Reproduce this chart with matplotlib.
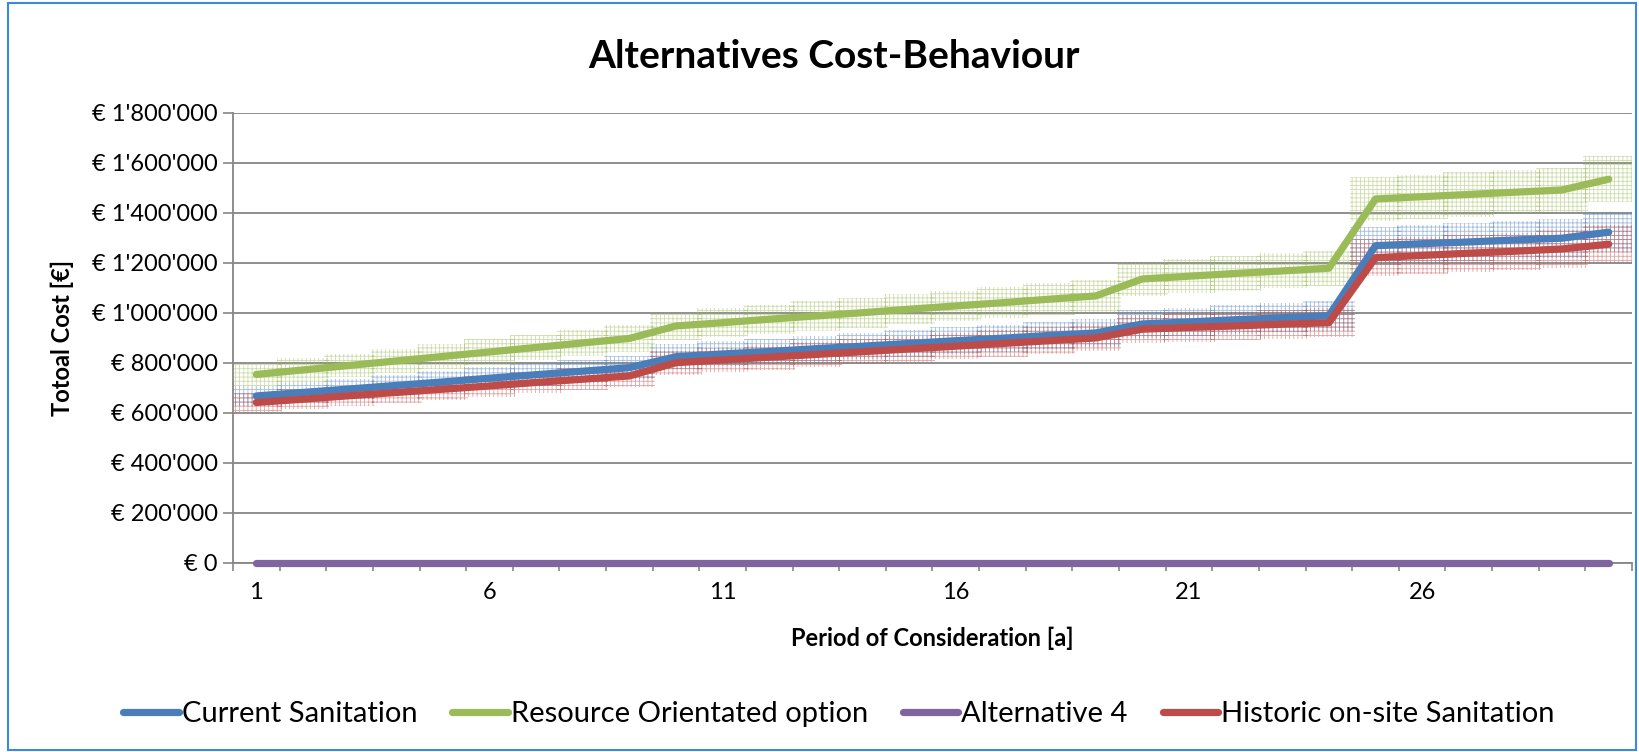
import matplotlib
matplotlib.use("Agg")
import matplotlib.pyplot as plt
from matplotlib.patches import Rectangle
from matplotlib.ticker import FuncFormatter, FixedLocator
import numpy as np

plt.rcParams['font.family'] = ['Lato', 'DejaVu Sans']
plt.rcParams['hatch.linewidth'] = 0.6

years = list(range(1, 31))

current_sanitation = [667, 681, 695, 709, 723, 738, 752, 766, 780,
                      824, 835, 845, 856, 866, 877, 888, 898, 909, 919,
                      955, 963, 972, 980, 988,
                      1268, 1276, 1283, 1291, 1298, 1322]
resource_orientated = [753, 771, 789, 807, 825, 843, 861, 879, 897,
                       947, 960, 974, 987, 1000, 1014, 1027, 1040, 1054, 1067,
                       1135, 1146, 1157, 1167, 1178,
                       1455, 1464, 1473, 1482, 1491, 1534]
alternative_4 = [0] * 30
historic_onsite = [641, 654, 668, 681, 694, 707, 721, 734, 747,
                   800, 811, 822, 833, 844, 855, 866, 877, 888, 899,
                   934, 941, 947, 954, 960,
                   1220, 1229, 1238, 1246, 1255, 1274]

series_names = ["Current Sanitation", "Resource Orientated option",
                "Alternative 4", "Historic on-site Sanitation"]
series_values = [current_sanitation, resource_orientated, alternative_4, historic_onsite]
series_colors = ["#4A7EBB", "#9BBB59", "#8064A2", "#BE4B48"]

rel_error = 0.06          # vertical uncertainty band (fraction of value)
half_width = 0.55         # horizontal extent of each band (in periods)

fig = plt.figure(figsize=(16.4, 7.52), dpi=100)
ax = fig.add_axes([233 / 1640, 1 - 562.7 / 752, (1632 - 233) / 1640, 450 / 752])

# uncertainty boxes drawn behind the lines
for vals, col in zip(series_values, series_colors):
    for x, v in zip(years, vals):
        if v == 0:
            continue
        val = v * 1000
        r = Rectangle((x - half_width, val * (1 - rel_error)), 2 * half_width,
                      2 * val * rel_error, facecolor='none', edgecolor=col,
                      hatch='++++', linewidth=0, alpha=0.5, zorder=2)
        ax.add_patch(r)

lines = []
for name, vals, col in zip(series_names, series_values, series_colors):
    ln, = ax.plot(years, np.array(vals) * 1000, color=col, lw=5.2, label=name,
                  solid_capstyle='round', solid_joinstyle='round', zorder=4,
                  clip_on=False)
    lines.append(ln)

ax.set_xlim(0.5, 30.5)
ax.set_ylim(0, 1_800_000)

ax.xaxis.set_major_locator(FixedLocator([1, 6, 11, 16, 21, 26]))
ax.xaxis.set_minor_locator(FixedLocator(np.arange(0.5, 31, 1)))
ax.tick_params(axis='x', which='major', length=0, pad=14, labelsize=17)
ax.tick_params(axis='x', which='minor', length=6, width=1.2, color='#868686',
               direction='out')
ax.set_yticks(np.arange(0, 1_800_001, 200_000))
ax.tick_params(axis='y', which='major', length=7, width=1.2, color='#868686',
               direction='out', pad=4, labelsize=17)


def euro(v, pos):
    n = int(round(v))
    s = f"{n:,}".replace(",", "'")
    return f"€ {s}"


ax.yaxis.set_major_formatter(FuncFormatter(euro))
ax.grid(axis='y', color='#868686', lw=1.3, zorder=1)
ax.set_axisbelow(True)
for side in ['top', 'right']:
    ax.spines[side].set_visible(False)
for side in ['left', 'bottom']:
    ax.spines[side].set_color('#868686')
    ax.spines[side].set_linewidth(1.3)

ax.set_xlabel("Period of Consideration [a]", fontsize=17, fontweight='bold')
ax.set_ylabel("Totoal Cost [€]", fontsize=17, fontweight='bold')
ax.xaxis.set_label_coords(0.5, (562.7 - 638) / 450)
ax.yaxis.set_label_coords((62 - 233) / 1399, 0.5)
ax.xaxis.label.set_va('center')
ax.yaxis.label.set_va('center')

fig.text(834 / 1640, 1 - 57 / 752, "Alternatives Cost-Behaviour",
         ha='center', va='center', fontsize=28, fontweight='bold')

fig.legend(handles=lines, labels=series_names, loc='center',
           bbox_to_anchor=(0.5115, 1 - 714 / 752), ncol=4, frameon=False,
           fontsize=21, handlelength=1.9, handletextpad=0.1, columnspacing=1.2)

# outer chart border
fig.patches.append(Rectangle((8 / 1640, 2 / 752), 1628 / 1640, 747 / 752,
                             transform=fig.transFigure, fill=False,
                             edgecolor='#3B8AD9', lw=1.5))

fig.savefig("out.png", dpi=100)
